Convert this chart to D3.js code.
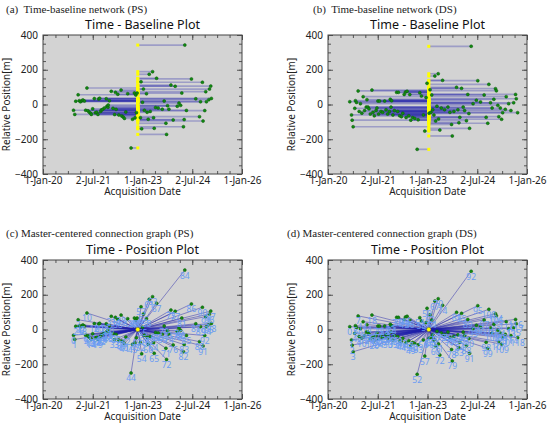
<!DOCTYPE html>
<html>
<head>
<meta charset="utf-8">
<script src="https://cdn.jsdelivr.net/npm/d3@7"></script>
<style>
  body { margin: 0; background: #fff; }
  svg { display: block; }
  .sub { font-family: "Liberation Serif", "Times New Roman", serif; font-size: 11px; fill: #222; white-space: pre; }
  .ttl { font-family: "Noto Sans", "Open Sans", sans-serif; font-size: 12.5px; fill: #111; }
  .axl { font-family: "Noto Sans", "Open Sans", sans-serif; font-size: 10px; fill: #222; }
  .tick text { font-family: "Noto Sans", "Open Sans", sans-serif; font-size: 10px; fill: #222; }
  .lbl { font-family: "Noto Sans", "Open Sans", sans-serif; font-size: 8.5px; fill: #6a9cf2; }
</style>
</head>
<body>
<div id="chart"></div>
<script>
// PS-Datensatz: Aufnahmedaten und relative Position zum Master [m]
const psMaster = "2022-11-10";
const psDates = [
  "2020-12-02","2020-12-16","2020-12-27","2021-01-22","2021-02-03","2021-02-17","2021-03-05","2021-03-16",
  "2021-04-01","2021-04-15","2021-04-29","2021-05-10","2021-05-25","2021-06-09","2021-06-16","2021-07-01",
  "2021-07-19","2021-07-30","2021-08-14","2021-08-28","2021-09-05","2021-09-16","2021-09-27","2021-10-04",
  "2021-10-19","2021-11-07","2021-11-28","2021-12-05","2021-12-16","2021-12-20","2022-01-01","2022-01-22",
  "2022-02-10","2022-02-28","2022-03-09","2022-03-16","2022-04-04","2022-04-15","2022-05-10","2022-05-17",
  "2022-06-02","2022-06-16","2022-07-01","2022-07-22","2022-08-28","2022-09-13","2022-10-04","2022-10-11",
  "2022-10-19","2022-10-26","2022-11-03",
  "2022-12-09","2022-12-16","2022-12-23","2023-01-01","2023-01-11","2023-01-22","2023-02-14","2023-02-21",
  "2023-03-05","2023-03-16","2023-03-27","2023-04-22","2023-05-03","2023-05-10","2023-05-25","2023-06-05",
  "2023-06-23","2023-08-07","2023-08-28","2023-09-16","2023-09-23","2023-10-04","2023-10-19","2023-11-10",
  "2023-12-05","2023-12-27","2024-01-19","2024-02-07","2024-02-25","2024-03-09","2024-03-27","2024-04-04",
  "2024-04-11","2024-04-29","2024-06-23","2024-08-10","2024-09-20","2024-10-01","2024-10-22","2024-10-29",
  "2024-11-17","2024-11-28","2024-12-05","2025-01-01","2025-01-08","2025-01-22","2025-01-29"
];
const psValues = [
  -33, -57, 19, 56, 22, 16, 22, 26,
  20, -33, 95, -36, -45, -50, -57, -25,
  34, -48, -45, -57, 32, 36, -40, -32,
  -28, -20, 33, -10, -16, -3, 22, 76,
  -22, -58, 70, -28, 59, -60, 83, -66,
  -72, -80, -43, 62, -250, -85, 66, -76,
  55, -47, 66,
  -76, 131, -140, 13, 89, -33, 62, -45,
  -85, 174, -40, 189, -76, -137, -17, 151,
  -20, -27, 20, -108, -172, -7, -27, 112,
  -89, 105, -10, 8, -5, 66, -128, -87,
  342, -34, 147, 33, -70, 16, 128, -95,
  -35, 74, 16, 28, 89, 106, 35
];

// DS-Datensatz
const dsMaster = "2023-01-15";
const dsDates = [
  "2020-08-28","2020-09-16","2020-09-23","2020-10-04","2020-10-22","2020-10-29","2020-11-10","2020-11-28",
  "2020-12-09","2020-12-23","2021-01-08","2021-01-22","2021-02-07","2021-02-25","2021-03-05","2021-03-16",
  "2021-03-27","2021-04-11","2021-04-29","2021-05-10","2021-05-25","2021-06-13","2021-06-23","2021-07-04",
  "2021-07-11","2021-07-22","2021-08-07","2021-08-25","2021-09-16","2021-10-01","2021-10-19","2021-11-07",
  "2021-11-17","2021-11-25","2021-12-02","2021-12-16","2022-01-01","2022-01-26","2022-02-07","2022-02-14",
  "2022-02-28","2022-03-20","2022-04-04","2022-04-19","2022-05-03","2022-05-10","2022-05-21","2022-06-09",
  "2022-06-20","2022-07-01","2022-07-22","2022-08-14","2022-09-09","2022-09-20","2022-10-08","2022-10-26",
  "2022-11-17","2022-12-02","2022-12-16","2022-12-27",
  "2023-01-19","2023-01-29","2023-02-07","2023-02-17","2023-02-28","2023-03-13","2023-03-23","2023-04-01",
  "2023-04-15","2023-04-29","2023-05-03","2023-05-17","2023-06-02","2023-06-16","2023-07-08","2023-08-14",
  "2023-09-05","2023-09-23","2023-10-01","2023-10-19","2023-11-17","2023-12-02","2023-12-13","2023-12-23",
  "2024-01-11","2024-01-29","2024-02-14","2024-03-05","2024-03-20","2024-04-01","2024-04-08","2024-04-26",
  "2024-05-17","2024-06-23","2024-07-08","2024-08-07","2024-09-16","2024-10-08","2024-10-26","2024-11-07",
  "2024-11-25","2024-12-13","2025-01-01","2025-01-19","2025-01-29","2025-02-14","2025-02-25","2025-03-13",
  "2025-03-27","2025-04-08","2025-05-07","2025-05-17","2025-06-13","2025-07-08","2025-08-07","2025-08-28",
  "2025-09-05","2025-09-20"
];
const dsValues = [
  16, -60, -90, -128, -22, 22, 12, 78,
  -40, 5, -50, 45, -35, -15, 28, -15,
  -25, -55, 83, -45, -65, -35, -20, 20,
  -55, 20, -40, -45, 20, -30, -55, -40,
  30, -15, 22, -60, -35, 70, -40, 70,
  -65, -70, -50, 58, 72, -75, 76, -65,
  57, -90, -75, -80, -258, -88, 68, 49,
  -60, -153, 40, 122,
  -50, 85, -45, 55, -30, -60, 164, -95,
  -10, 177, -83, -147, -20, 139, -30, -15,
  -45, -115, -181, -40, 99, -30, -105, -74,
  93, -15, -35, -93, 58, -52, -137, 335,
  5, 25, 137, 15, 55, -74, -108, 116,
  10, -20, 30, 91, 79, -5, -70, -20,
  -85, -47, -28, 45, 5, -35, 10, 58,
  33, -47
];

// Achsen
const xTickDates = ["2020-01-01", "2021-07-02", "2023-01-01", "2024-07-02", "2026-01-01"];
const xTickLabels = ["1-Jan-20", "2-Jul-21", "1-Jan-23", "2-Jul-24", "1-Jan-26"];
const yTicks = [-400, -200, 0, 200, 400];

const parse = d3.timeParse("%Y-%m-%d");
const plotW = 199, plotH = 139;

const svg = d3.select("#chart").append("svg")
    .attr("width", 550)
    .attr("height", 425);

svg.append("rect").attr("width", 550).attr("height", 425).attr("fill", "#fff");

const panels = [
  { sub: "(a)  Time-baseline network (PS)", title: "Time - Baseline Plot", kind: "baseline",
    dates: psDates, values: psValues, master: psMaster, left: 43, top: 35, subX: 6, subY: 13 },
  { sub: "(b)  Time-baseline network (DS)", title: "Time - Baseline Plot", kind: "baseline",
    dates: dsDates, values: dsValues, master: dsMaster, left: 328, top: 35, subX: 313, subY: 13 },
  { sub: "(c) Master-centered connection graph (PS)", title: "Time - Position Plot", kind: "position",
    dates: psDates, values: psValues, master: psMaster, left: 43, top: 260, subX: 6, subY: 237 },
  { sub: "(d) Master-centered connection graph (DS)", title: "Time - Position Plot", kind: "position",
    dates: dsDates, values: dsValues, master: dsMaster, left: 328, top: 260, subX: 287, subY: 237 }
];

panels.forEach(drawPanel);

function drawPanel(p) {
    const g = svg.append("g");
    const t0 = parse(xTickDates[0]), t1 = parse(xTickDates[xTickDates.length - 1]);

    const x = d3.scaleTime().domain([t0, t1]).range([p.left, p.left + plotW]);
    const y = d3.scaleLinear().domain([-400, 400]).range([p.top + plotH, p.top]);

    // Überschriften
    g.append("text").attr("class", "sub").attr("x", p.subX).attr("y", p.subY).text(p.sub);
    g.append("text").attr("class", "ttl")
        .attr("x", p.left + plotW / 2).attr("y", p.top - 6)
        .attr("text-anchor", "middle").text(p.title);

    // Hintergrund
    g.append("rect")
        .attr("x", p.left).attr("y", p.top)
        .attr("width", plotW).attr("height", plotH)
        .attr("fill", "#d3d3d3");

    // Haupt- und Nebenstriche
    const majorX = xTickDates.map(parse);
    const minorX = d3.range(0, 17).map(i => new Date(+t0 + i * (t1 - t0) / 16));
    const minorY = d3.range(-400, 401, 50);

    const sides = [
      { axis: d3.axisBottom(x), tr: `translate(0,${p.top + plotH})` },
      { axis: d3.axisTop(x), tr: `translate(0,${p.top})` },
      { axis: d3.axisLeft(y), tr: `translate(${p.left},0)` },
      { axis: d3.axisRight(y), tr: `translate(${p.left + plotW},0)` }
    ];
    sides.forEach((s, i) => {
        const isX = i < 2;
        g.append("g").attr("transform", s.tr)
            .call(s.axis.tickValues(isX ? minorX : minorY).tickSize(-3).tickFormat(""))
            .call(a => a.select(".domain").remove())
            .selectAll("line").attr("stroke", "#555");
        const major = isX ? d3.axisBottom(x) : d3.axisLeft(y);
        const ax = i === 1 ? d3.axisTop(x) : i === 3 ? d3.axisRight(y) : major;
        ax.tickValues(isX ? majorX : yTicks).tickSizeInner(-5).tickSizeOuter(0)
          .tickPadding(isX ? 3 : 5);
        if (i === 0) ax.tickFormat((d, k) => xTickLabels[k]);
        else if (i === 2) ax.tickFormat(d3.format("d"));
        else ax.tickFormat("");
        g.append("g").attr("transform", s.tr)
            .call(ax)
            .call(a => a.select(".domain").remove())
            .selectAll("line").attr("stroke", "#555");
    });

    // Achsenbeschriftungen
    g.append("text").attr("class", "axl")
        .attr("x", p.left + plotW / 2).attr("y", p.top + plotH + 21)
        .attr("text-anchor", "middle").text("Acquisition Date");
    g.append("text").attr("class", "axl")
        .attr("transform", `translate(${p.left - 33},${p.top + plotH / 2}) rotate(-90)`)
        .attr("text-anchor", "middle").text("Relative Position[m]");

    const data = p.dates.map((d, i) => ({ date: parse(d), value: p.values[i] }));
    const m = parse(p.master);
    const nBefore = data.filter(d => d.date < m).length;
    data.forEach((d, i) => d.idx = i < nBefore ? i : i + 1);

    const marks = g.append("g");

    if (p.kind === "baseline") {
        marks.selectAll("line.link").data(data).enter().append("line")
            .attr("x1", x(m)).attr("x2", d => x(d.date))
            .attr("y1", d => y(d.value)).attr("y2", d => y(d.value))
            .attr("stroke", "#2020aa").attr("stroke-width", 1.7).attr("stroke-opacity", 0.3);
        marks.selectAll("rect.ms").data(data).enter().append("rect")
            .attr("x", x(m) - 1.5).attr("y", d => y(d.value) - 1.5)
            .attr("width", 3).attr("height", 3)
            .attr("fill", "#ffff00");
    } else {
        marks.selectAll("line.link").data(data).enter().append("line")
            .attr("x1", x(m)).attr("y1", y(0))
            .attr("x2", d => x(d.date)).attr("y2", d => y(d.value))
            .attr("stroke", "#1c1ca8").attr("stroke-width", 1).attr("stroke-opacity", 0.45);
    }

    marks.selectAll("circle.pt").data(data).enter().append("circle")
        .attr("cx", d => x(d.date)).attr("cy", d => y(d.value))
        .attr("r", 1.5)
        .attr("fill", "#118a11").attr("stroke", "#0a5a0a").attr("stroke-width", 0.5);

    if (p.kind === "position") {
        marks.selectAll("text.lbl").data(data).enter().append("text")
            .attr("class", "lbl")
            .attr("x", d => x(d.date)).attr("y", d => y(d.value) + 8.5)
            .attr("text-anchor", "middle")
            .text(d => d.idx);
        marks.append("circle")
            .attr("cx", x(m)).attr("cy", y(0)).attr("r", 2.2)
            .attr("fill", "#ffff00").attr("stroke", "#444").attr("stroke-width", 0.5);
    }

    // Rahmen
    g.append("rect")
        .attr("x", p.left).attr("y", p.top)
        .attr("width", plotW).attr("height", plotH)
        .attr("fill", "none").attr("stroke", "#444").attr("stroke-width", 1);
}
</script>
</body>
</html>
